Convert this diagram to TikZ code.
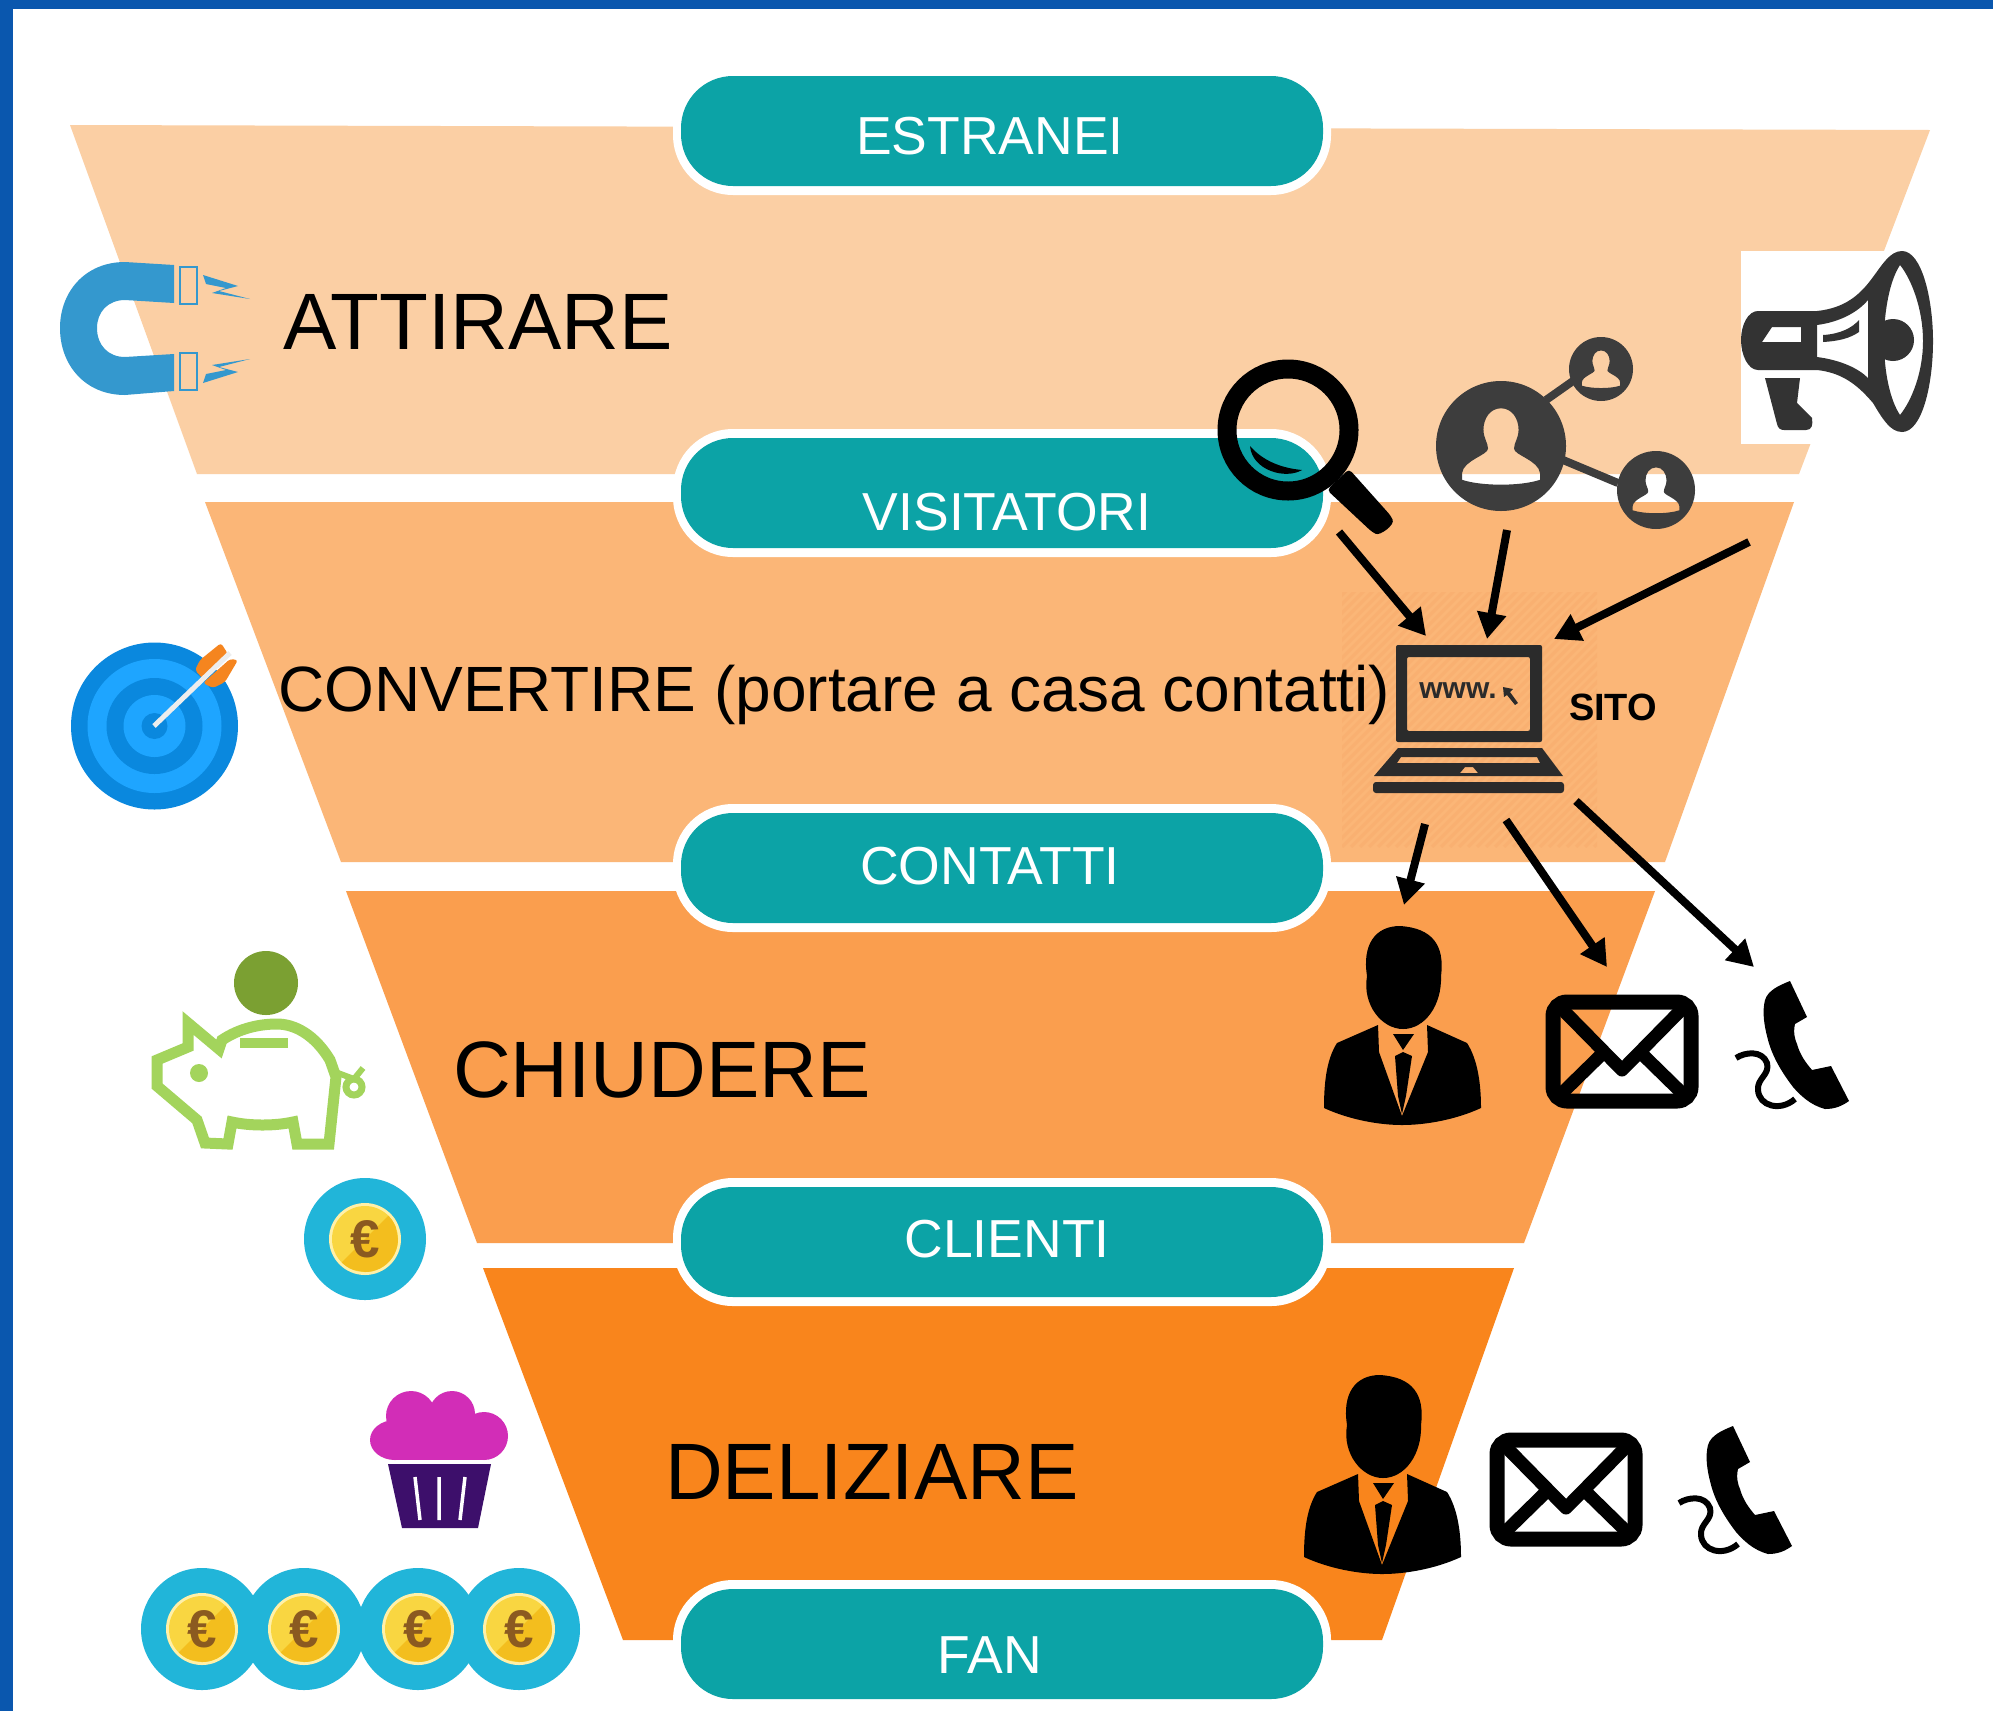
\documentclass[tikz,border=0pt]{standalone}
\usepackage{fontspec}
\setmainfont{Liberation Sans}
\usetikzlibrary{arrows.meta}
\definecolor{frameblue}{HTML}{0A57AE}
\definecolor{tA}{HTML}{FBCFA4}
\definecolor{tB}{HTML}{FBB677}
\definecolor{tC}{HTML}{FA9E4E}
\definecolor{tD}{HTML}{F9851C}
\definecolor{hatchTone}{HTML}{F9B071}
\definecolor{pill}{HTML}{0CA3A6}
\definecolor{iconDark}{HTML}{3D3D3D}
\definecolor{megaDark}{HTML}{333333}
\definecolor{lapDark}{HTML}{2B2B2B}
\definecolor{magnetBlue}{HTML}{3498CE}
\definecolor{tgDark}{HTML}{0A88DE}
\definecolor{tgLight}{HTML}{1EA5FF}
\definecolor{arrowOrange}{HTML}{F5851F}
\definecolor{pigGreen}{HTML}{A3D45C}
\definecolor{pigCoin}{HTML}{7BA032}
\definecolor{coinTeal}{HTML}{21B5D9}
\definecolor{coinCream}{HTML}{FFF0A8}
\definecolor{coinYellow}{HTML}{F9D641}
\definecolor{coinShade}{HTML}{F3BE1E}
\definecolor{coinBrown}{HTML}{8B5A20}
\definecolor{cakePink}{HTML}{D22DB7}
\definecolor{cakePurple}{HTML}{3D0F6B}
\newcommand{\fsz}[1]{\fontsize{#1}{#1}\selectfont}
\tikzset{
  x=1pt,y=-1pt,
  funnelband/.style={draw=none},
  pillhalo/.style={fill=white,rounded corners=60pt},
  stagepill/.style={fill=pill,rounded corners=52pt},
  pilltext/.style={text=white,inner sep=0pt,font=\fsz{53.5}},
  bigtext/.style={text=black,inner sep=0pt,anchor=base west},
  flow/.style={draw=black,line width=8pt,-{Triangle[length=26pt,width=28pt]}},
  mailline/.style={draw=black,line width=13pt,line join=round},
}
\newcommand{\personicon}[2]{%
\begin{scope}[shift={(#1,#2)}]
\fill[black] (1367,976) .. controls (1362,945) and (1375,926) .. (1400,926)
  .. controls (1432,928) and (1445,945) .. (1441,976)
  .. controls (1442,1005) and (1425,1029) .. (1403,1029)
  .. controls (1382,1029) and (1362,1005) .. (1367,976) -- cycle;
\fill[black] (1378,1025) -- (1337,1043) .. controls (1326,1060) and (1324,1085) .. (1324,1108)
  .. controls (1350,1120) and (1380,1125) .. (1402,1125)
  .. controls (1425,1125) and (1455,1120) .. (1481,1108)
  .. controls (1481,1085) and (1478,1060) .. (1467,1043) -- (1427,1025)
  -- (1428,1052) -- (1402,1116) -- (1379,1052) -- cycle;
\fill[black] (1393,1034) -- (1414,1034) -- (1403,1050) -- cycle;
\fill[black] (1395,1056) -- (1403,1052) -- (1412,1056) -- (1406,1096) -- (1402,1114) -- (1398,1096) -- cycle;
\end{scope}}
\newcommand{\mailicon}[2]{%
\begin{scope}[shift={(#1,#2)}]
\draw[black,line width=15pt,rounded corners=14pt] (1553,1002) rectangle (1691,1101);
\draw[mailline] (1562,1009) -- (1622,1070) -- (1682,1009);
\draw[mailline] (1559,1096) -- (1604,1052);
\draw[mailline] (1685,1096) -- (1640,1052);
\end{scope}}
\newcommand{\phoneicon}[2]{%
\begin{scope}[shift={(#1,#2)}]
\fill[black] (1790,981) -- (1807,1017) -- (1795,1024) .. controls (1793,1032) and (1795,1040) .. (1797,1044)
  .. controls (1800,1055) and (1806,1063) .. (1812,1070) -- (1831,1066) -- (1849,1101)
  .. controls (1842,1106) and (1835,1109) .. (1825,1109)
  .. controls (1810,1105) and (1800,1095) .. (1793,1087)
  .. controls (1780,1070) and (1772,1055) .. (1768,1040)
  .. controls (1764,1025) and (1762,1012) .. (1765,1000)
  .. controls (1768,990) and (1780,985) .. (1790,981) -- cycle;
\draw[black,line width=6pt] (1736,1058) .. controls (1745,1052) and (1762,1050) .. (1767,1063)
  .. controls (1770,1075) and (1757,1078) .. (1758,1090)
  .. controls (1759,1106) and (1780,1112) .. (1795,1099);
\end{scope}}
\newcommand{\eurocoin}[3]{%
\fill[coinTeal] (#2,#3) circle[radius=61];
\fill[coinCream] (#2,#3) circle[radius=36];
\begin{scope}
\clip (#2,#3) circle[radius=33];
\fill[coinYellow] (#2-40,#3-40) rectangle (#2+40,#3+40);
\fill[coinShade] (#2-28,#3+28) -- (#2+28,#3-28) -- (#2+40,#3+40) -- cycle;
\end{scope}
\node[text=coinBrown,inner sep=0pt,font=\fsz{53}\bfseries] (#1) at (#2,#3) {€};}
\newcommand{\netperson}[3]{%
(#1,#2) circle[radius=#3]
[shift={(#1,#2)},scale=#3]
(0,-.58) .. controls (.17,-.58) and (.27,-.42) .. (.27,-.25)
 .. controls (.27,-.12) and (.2,-.05) .. (.2,.04)
 .. controls (.2,.14) and (.58,.22) .. (.6,.42) -- (.6,.52)
 .. controls (.3,.62) and (-.3,.62) .. (-.6,.52) -- (-.6,.42)
 .. controls (-.58,.22) and (-.2,.14) .. (-.2,.04)
 .. controls (-.2,-.05) and (-.27,-.12) .. (-.27,-.25)
 .. controls (-.27,-.42) and (-.17,-.58) .. (0,-.58) -- cycle}
\begin{document}
\begin{tikzpicture}
\useasboundingbox (0,0) rectangle (1993,1711);
\fill[white] (0,0) rectangle (1993,1711);
% frame
\fill[frameblue] (0,0) rectangle (1993,9);
\fill[frameblue] (0,0) rectangle (13,1711);
% funnel bands
\fill[tA,funnelband] (70,125) -- (1930,130) -- (1799,474) -- (197,474) -- cycle;
\fill[tB,funnelband] (205,502) -- (1794,502) -- (1665,862) -- (341,862) -- cycle;
\begin{scope}
\clip (1342,592) rectangle (1597,847);
\foreach \k in {0,9,...,520}
  \draw[hatchTone,line width=3pt] (1342+\k,847) -- (1342+\k+260,587);
\foreach \k in {9,18,...,260}
  \draw[hatchTone,line width=3pt] (1342-\k,847) -- (1342-\k+260,587);
\end{scope}
\fill[tC,funnelband] (346,891) -- (1655,891) -- (1524,1243) -- (477,1243) -- cycle;
\fill[tD,funnelband] (483,1268) -- (1514,1268) -- (1382,1640) -- (623,1640) -- cycle;
% pills
\foreach \ytop in {76,438,813,1187,1589}{
  \fill[pillhalo] (673,\ytop-9) rectangle (1331,\ytop+119);
  \fill[stagepill] (681,\ytop) rectangle (1323,\ytop+110);
}
\node[pilltext] (estranei) at (990,136) {ESTRANEI};
\node[pilltext] (visitatori) at (1007,512) {VISITATORI};
\node[pilltext] (contatti) at (990,866) {CONTATTI};
\node[pilltext] (clienti) at (1007,1239) {CLIENTI};
\node[pilltext] (fan) at (990,1655) {FAN};
% big labels
\node[bigtext,font=\fsz{80}] (attirare) at (283,349) {ATTIRARE};
\node[bigtext,font=\fsz{64}] (convertire) at (278,711) {CONVERTIRE (portare a casa contatti)};
\node[bigtext,font=\fsz{80}] (chiudere) at (453,1097) {CHIUDERE};
\node[bigtext,font=\fsz{80}] (deliziare) at (665,1499) {DELIZIARE};
% magnet
\fill[magnetBlue] (174,265) -- (125,262) .. controls (85,262) and (60,292) .. (60,328)
  .. controls (60,365) and (85,395) .. (125,395) -- (174,391) -- (174,354) -- (125,357)
  .. controls (108,357) and (97,345) .. (97,328) .. controls (97,312) and (108,300) .. (125,300)
  -- (174,303) -- cycle;
\draw[magnetBlue,line width=2.6pt] (180,267) rectangle (197,304);
\draw[magnetBlue,line width=2.6pt] (180,353) rectangle (197,390);
\fill[magnetBlue] (203,275) -- (238,286) -- (219,291) -- (250,299) -- (212,293) -- (226,288) -- (206,284) -- cycle;
\fill[magnetBlue] (203,383) -- (238,372) -- (219,367) -- (250,359) -- (212,365) -- (226,370) -- (206,374) -- cycle;
% target
\fill[tgDark] (154.5,726) circle[radius=83.5];
\fill[tgLight] (154.5,726) circle[radius=67];
\fill[tgDark] (154.5,726) circle[radius=48];
\fill[tgLight] (154.5,726) circle[radius=31];
\fill[tgDark] (154.5,726) circle[radius=13];
\fill[arrowOrange,rounded corners=3pt] (221,643) -- (228,654) -- (204,680) -- (195,670) -- (200,660) -- cycle;
\fill[arrowOrange,rounded corners=3pt] (238,660) -- (230,659) -- (203,683) -- (213,688) -- (225,682) -- cycle;
\draw[white!93!black,line width=5pt] (154,726) -- (230,653);
% piggy
\draw[pigGreen,line width=11pt,line join=miter] (157,1060) -- (188,1047) -- (188,1023) -- (219,1049) -- (222,1040)
  .. controls (240,1028) and (260,1024) .. (277,1024) .. controls (295,1024) and (315,1035) .. (330,1060)
  -- (336,1077) -- (329,1144) -- (297,1144) -- (293,1122) .. controls (275,1126) and (250,1126) .. (232,1122)
  -- (228,1144) -- (205,1143) -- (197,1120) -- (157,1086) -- cycle;
\fill[pigGreen] (199,1073) circle[radius=9];
\fill[pigGreen] (240,1038) rectangle (288,1048);
\draw[pigGreen,line width=7pt] (354,1087) circle[radius=8];
\draw[pigGreen,line width=6pt] (338,1073) -- (354,1079) -- (363,1068);
\fill[pigCoin] (266,983) circle[radius=32];
% coins
\eurocoin{coinA}{365}{1239}
\eurocoin{coinB}{202}{1629}
\eurocoin{coinC}{304}{1629}
\eurocoin{coinD}{418}{1629}
\eurocoin{coinE}{519}{1629}
% cupcake
\fill[cakePink] (395,1440) ellipse[x radius=25,y radius=20] (411,1416) circle[radius=25] (452,1414) circle[radius=23] (484,1436) circle[radius=24];
\fill[cakePink] (396,1421) rectangle (485,1460);
\fill[cakePurple] (388,1464) -- (491,1464) -- (478,1528) -- (402,1528) -- cycle;
\draw[white,line width=3.5pt] (415,1477) -- (420,1520) (439,1477) -- (439,1520) (465,1477) -- (460,1520);
% megaphone
\fill[white] (1741,251) rectangle (1934,444);
\fill[megaDark,even odd rule] (1758,311) -- (1817,311) .. controls (1845,308) and (1860,295) .. (1873,277)
  .. controls (1882,265) and (1890,251) .. (1902,251) .. controls (1922,251) and (1933,300) .. (1933,341)
  .. controls (1933,385) and (1922,432) .. (1902,432) .. controls (1890,432) and (1882,418) .. (1873,403)
  .. controls (1860,388) and (1845,373) .. (1817,370) -- (1758,370)
  .. controls (1748,370) and (1741,355) .. (1741,340) .. controls (1741,325) and (1748,311) .. (1758,311) -- cycle
  (1762,342) -- (1772,327) -- (1801,327) -- (1801,342) -- cycle
  (1817,325) .. controls (1840,322) and (1858,312) .. (1868,300) -- (1868,378)
  .. controls (1858,368) and (1840,360) .. (1817,357) -- cycle
  (1900,265) .. controls (1912,280) and (1923,310) .. (1923,341) .. controls (1923,372) and (1912,400) .. (1900,415)
  .. controls (1890,400) and (1884,372) .. (1884,341) .. controls (1884,310) and (1890,280) .. (1900,265) -- cycle;
\fill[megaDark] (1765,378) -- (1800,378) -- (1797,403) -- (1812,418) .. controls (1813,425) and (1812,430) .. (1806,430)
  -- (1784,430) .. controls (1780,430) and (1778,428) .. (1777,424) -- cycle;
\fill[megaDark] (1823,335) .. controls (1840,334) and (1852,328) .. (1859,320) -- (1859,332) .. controls (1850,338) and (1840,341) .. (1823,342) -- cycle;
\fill[megaDark] (1893,340) circle[radius=21];
% magnifier
\draw[black,line width=19pt] (1288,430) ellipse[x radius=61,y radius=61];
\fill[black,rounded corners=4pt] (1327,490) -- (1349,469) -- (1391,516) .. controls (1395,525) and (1380,536) .. (1372,532) -- cycle;
\fill[black] (1250,446) .. controls (1262,460) and (1280,468) .. (1302,470) .. controls (1285,480) and (1252,470) .. (1250,446) -- cycle;
% social network
\draw[iconDark,line width=8pt] (1546,400) -- (1573,381);
\draw[iconDark,line width=8pt] (1563,460) -- (1618,483);
\fill[iconDark,even odd rule] \netperson{1501}{446}{65};
\fill[iconDark,even odd rule] \netperson{1601}{369}{32};
\fill[iconDark,even odd rule] \netperson{1656}{490}{39};
% laptop
\fill[lapDark,rounded corners=2pt,even odd rule] (1396,645) rectangle (1542,742) (1407,657) rectangle (1530,731);
\fill[lapDark,even odd rule] (1398,748) -- (1542,748) -- (1563,776) -- (1374,776) -- cycle
  (1401,757) -- (1537,757) -- (1540,763) -- (1397,763) -- cycle
  (1465,767) -- (1473,767) -- (1478,773) -- (1460,773) -- cycle;
\fill[lapDark,rounded corners=3pt] (1373,782) rectangle (1564,793);
\node[text=lapDark,inner sep=0pt,font=\fsz{30}\bfseries] (www) at (1458,691) {www.};
\fill[lapDark] (1503,687) -- (1513,689) -- (1510,692) -- (1518,703) -- (1515,705) -- (1507,695) -- (1504,697) -- cycle;
\node[text=black,inner sep=0pt,font=\fsz{38}\bfseries] (sito) at (1613,707) {SITO};
% icons of the lower stages
\personicon{0}{0}
\personicon{-20}{449}
\mailicon{0}{0}
\mailicon{-56}{438}
\phoneicon{0}{0}
\phoneicon{-57}{445}
% arrows
\coordinate (magOut) at (1339,532);
\coordinate (netOut) at (1507,530);
\coordinate (megaOut) at (1749,542);
\coordinate (siteInA) at (1426,636);
\coordinate (siteInB) at (1487,639);
\coordinate (siteInC) at (1554,639);
\coordinate (siteOutA) at (1425,824);
\coordinate (siteOutB) at (1506,820);
\coordinate (siteOutC) at (1576,801);
\coordinate (personIn) at (1404,905);
\coordinate (mailIn) at (1607,967);
\coordinate (phoneIn) at (1754,967);
\draw[flow] (magOut) -- (siteInA);
\draw[flow] (netOut) -- (siteInB);
\draw[flow] (megaOut) -- (siteInC);
\draw[flow] (siteOutA) -- (personIn);
\draw[flow] (siteOutB) -- (mailIn);
\draw[flow] (siteOutC) -- (phoneIn);
\end{tikzpicture}
\end{document}
